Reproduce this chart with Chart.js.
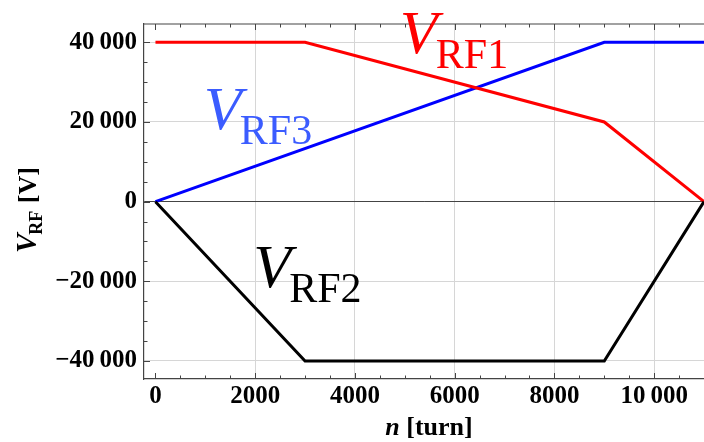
<!DOCTYPE html>
<html>
<head>
<meta charset="utf-8">
<script src="https://cdn.jsdelivr.net/npm/chart.js@4/dist/chart.umd.min.js"></script>
<style>
  html, body { margin: 0; padding: 0; background: #fff; }
  canvas { display: block; }
</style>
</head>
<body>
<canvas id="chart" width="704" height="442"></canvas>
<script>
// turn numbers where the voltage programmes change slope
const turnsRF1 = [0, 3000, 9000, 11000];
const voltsRF1 = [40000, 40000, 20000, 0];
const turnsRF2 = [0, 3000, 9000, 11000];
const voltsRF2 = [0, -40000, -40000, 0];
const turnsRF3 = [0, 9000, 11000];
const voltsRF3 = [0, 40000, 40000];

const xMajorTicks = [0, 2000, 4000, 6000, 8000, 10000];
const yMajorTicks = [-40000, -20000, 0, 20000, 40000];
const xMinorStep = 500;
const yMinorStep = 5000;

// label anchors in data units (V baseline)
const labels = [
  { sub: 'RF1', x: 4900, y: 37300, color: '#ff0000' },
  { sub: 'RF3', x: 970, y: 18200, color: '#3b5cff' },
  { sub: 'RF2', x: 1960, y: -21500, color: '#000000' }
];

const serif = "'Liberation Serif', 'Times New Roman', serif";

const toPoints = (xs, ys) => xs.map((x, i) => ({ x: x, y: ys[i] }));

function fmt(v) {
  const a = Math.abs(v);
  let s = String(a);
  if (a >= 10000) s = s.slice(0, -3) + '\u2009' + s.slice(-3);
  return (v < 0 ? '\u2212' : '') + s;
}

// tick values between scale bounds, every minor step
function tickList(min, max, step) {
  const out = [];
  for (let v = Math.ceil(min / step) * step; v <= max; v += step) out.push({ value: v });
  return out;
}

// inward tick marks on frame + top frame line + axis titles + curve labels
const decorations = {
  id: 'decorations',
  afterDraw(chart) {
    const ctx = chart.ctx;
    const area = chart.chartArea;
    const xs = chart.scales.x;
    const ys = chart.scales.y;
    ctx.save();
    ctx.strokeStyle = '#444';
    ctx.lineWidth = 1.2;
    ctx.beginPath();
    ctx.moveTo(area.left, area.top);
    ctx.lineTo(area.right, area.top);
    ctx.stroke();

    ctx.lineWidth = 1;
    ctx.beginPath();
    xs.ticks.forEach(t => {
      const px = Math.round(xs.getPixelForValue(t.value)) + 0.5;
      const len = t.value % 2000 === 0 ? 6 : 3.5;
      ctx.moveTo(px, area.bottom);
      ctx.lineTo(px, area.bottom - len);
      ctx.moveTo(px, area.top);
      ctx.lineTo(px, area.top + len);
    });
    ys.ticks.forEach(t => {
      const py = Math.round(ys.getPixelForValue(t.value)) + 0.5;
      const len = t.value % 20000 === 0 ? 6 : 3.5;
      ctx.moveTo(area.left, py);
      ctx.lineTo(area.left + len, py);
    });
    ctx.stroke();

    // x axis title: n [turn]
    ctx.fillStyle = '#000';
    ctx.textBaseline = 'alphabetic';
    ctx.textAlign = 'left';
    ctx.font = 'italic bold 26px ' + serif;
    const nW = ctx.measureText('n').width;
    ctx.font = 'bold 26px ' + serif;
    const restW = ctx.measureText(' [turn]').width;
    const cx = (area.left + area.right) / 2 + 5;
    const x0 = cx - (nW + restW) / 2;
    ctx.font = 'italic bold 26px ' + serif;
    ctx.fillText('n', x0, 435);
    ctx.font = 'bold 26px ' + serif;
    ctx.fillText(' [turn]', x0 + nW, 435);

    // y axis title: V_RF [V], rotated
    ctx.save();
    ctx.translate(36, 253);
    ctx.rotate(-Math.PI / 2);
    ctx.font = 'italic bold 29px ' + serif;
    ctx.fillText('V', 0, 0);
    let w = ctx.measureText('V').width;
    ctx.font = 'bold 18px ' + serif;
    ctx.fillText('RF', w - 1, 6);
    w += ctx.measureText('RF').width;
    ctx.font = 'bold 26px ' + serif;
    ctx.fillText(' [V]', w, 0);
    ctx.restore();

    // curve labels
    labels.forEach(l => {
      const px = xs.getPixelForValue(l.x);
      const py = ys.getPixelForValue(l.y);
      ctx.fillStyle = l.color;
      ctx.font = 'italic 62px ' + serif;
      ctx.fillText('V', px, py);
      ctx.font = '42px ' + serif;
      ctx.fillText(l.sub, px + 36, py + 15);
    });
    ctx.restore();
  }
};

new Chart(document.getElementById('chart'), {
  type: 'line',
  data: {
    datasets: [
      { label: 'V_RF2', data: toPoints(turnsRF2, voltsRF2), borderColor: '#000000', borderWidth: 3 },
      { label: 'V_RF1', data: toPoints(turnsRF1, voltsRF1), borderColor: '#ff0000', borderWidth: 3 },
      { label: 'V_RF3', data: toPoints(turnsRF3, voltsRF3), borderColor: '#0000ff', borderWidth: 3 }
    ]
  },
  options: {
    responsive: false,
    animation: false,
    devicePixelRatio: 1,
    layout: { padding: { left: 0, top: 24, right: 0, bottom: 0 } },
    elements: { point: { radius: 0 }, line: { tension: 0, borderJoinStyle: 'miter' } },
    plugins: { legend: { display: false }, tooltip: { enabled: false } },
    scales: {
      x: {
        type: 'linear',
        min: -230,
        max: 11000,
        afterBuildTicks: s => { s.ticks = tickList(s.min, s.max, xMinorStep); },
        afterFit: s => { s.height = 63; s.paddingLeft = 0; s.paddingRight = 0; },
        border: { display: true, color: '#444', width: 1.2 },
        grid: {
          drawTicks: false,
          color: c => (c.tick && c.tick.value !== 0 && c.tick.value % 2000 === 0) ? '#d6d6d6' : 'rgba(0,0,0,0)',
          lineWidth: 1
        },
        ticks: {
          autoSkip: false,
          maxRotation: 0,
          padding: 3,
          color: '#000',
          font: { family: serif, size: 25, weight: 'bold' },
          callback: v => xMajorTicks.includes(v) ? fmt(v) : ''
        }
      },
      y: {
        type: 'linear',
        min: -44520,
        max: 44600,
        afterBuildTicks: s => { s.ticks = tickList(s.min, s.max, yMinorStep); },
        afterFit: s => { s.width = 144; s.paddingTop = 0; s.paddingBottom = 0; },
        border: { display: true, color: '#444', width: 1.2 },
        grid: {
          drawTicks: false,
          color: c => {
            if (!c.tick) return 'rgba(0,0,0,0)';
            if (c.tick.value === 0) return '#444';
            return c.tick.value % 20000 === 0 ? '#d6d6d6' : 'rgba(0,0,0,0)';
          },
          lineWidth: 1
        },
        ticks: {
          autoSkip: false,
          padding: 7,
          color: '#000',
          font: { family: serif, size: 25, weight: 'bold' },
          callback: v => yMajorTicks.includes(v) ? fmt(v) : ''
        }
      }
    }
  },
  plugins: [decorations]
});
</script>
</body>
</html>
